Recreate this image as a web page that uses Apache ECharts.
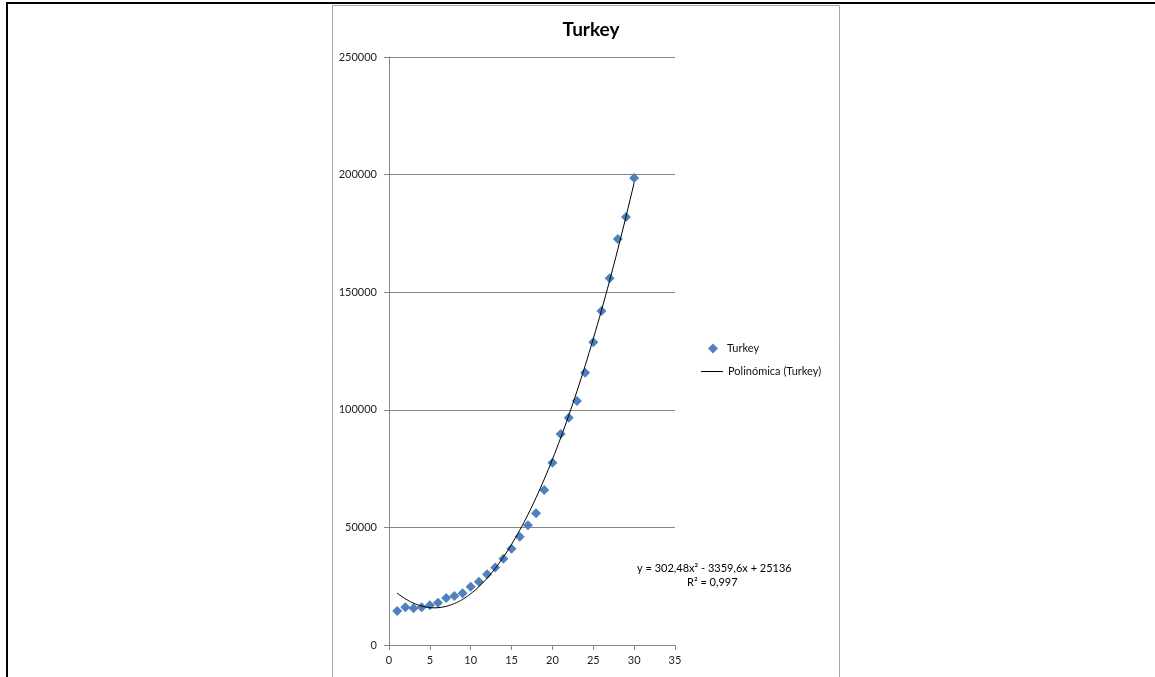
<!DOCTYPE html>
<html>
<head>
<meta charset="utf-8">
<title>Turkey</title>
<script src="https://cdn.jsdelivr.net/npm/echarts@6/dist/echarts.min.js"></script>
<style>
  html, body { margin: 0; padding: 0; background: #fff; }
  #chart { width: 1155px; height: 677px; }
</style>
</head>
<body>
<div id="chart"></div>
<script>
// Observed values (day index, cases)
const days = [1, 2, 3, 4, 5, 6, 7, 8, 9, 10, 11, 12, 13, 14, 15,
              16, 17, 18, 19, 20, 21, 22, 23, 24, 25, 26, 27, 28, 29, 30];
const cases = [14500, 16000, 15600, 16000, 16900, 18000, 20000, 20800, 22000, 24800,
               26900, 30100, 32900, 36700, 40900, 46000, 50900, 56000, 65900, 77500,
               89700, 96600, 103700, 115700, 128700, 142000, 155900, 172600, 182000, 198600];

// Second-order polynomial trend: c0 + c1*x + c2*x^2 (as printed on the chart)
const trendCoef = [25136, -3359.6, 302.48];
const trendLabel = ['y = 302,48x\u00B2 - 3359,6x + 25136', 'R\u00B2 = 0,997'];

const xTicks = { min: 0, max: 35, interval: 5 };
const yTicks = { min: 0, max: 250000, interval: 50000 };

const trendPoints = [];
for (let x = days[0]; x <= days[days.length - 1] + 1e-9; x += 0.25) {
  trendPoints.push([x, trendCoef[0] + trendCoef[1] * x + trendCoef[2] * x * x]);
}

const font = 'Lato, "Open Sans", "DejaVu Sans", sans-serif';
const chart = echarts.init(document.getElementById('chart'));

chart.setOption({
  animation: false,
  backgroundColor: '#ffffff',
  title: {
    text: 'Turkey',
    left: 586,
    top: 15,
    textAlign: 'center',
    textStyle: { fontFamily: font, fontSize: 19, fontWeight: 'bold', color: '#000' }
  },
  grid: { left: 389, right: 480, top: 57, bottom: 32, containLabel: false },
  xAxis: {
    type: 'value',
    min: xTicks.min, max: xTicks.max, interval: xTicks.interval,
    axisLine: { show: true, onZero: false, lineStyle: { color: '#868686', width: 1 } },
    axisTick: { show: true, inside: false, length: 5, lineStyle: { color: '#868686' } },
    axisLabel: { margin: 10, fontFamily: font, fontSize: 11, color: '#222' },
    splitLine: { show: false }
  },
  yAxis: {
    type: 'value',
    min: yTicks.min, max: yTicks.max, interval: yTicks.interval,
    axisLine: { show: true, lineStyle: { color: '#868686', width: 1 } },
    axisTick: { show: true, inside: false, length: 5, lineStyle: { color: '#868686' } },
    axisLabel: { margin: 12, fontFamily: font, fontSize: 11, color: '#222',
                 formatter: v => String(v) },
    splitLine: { show: true, lineStyle: { color: '#868686', width: 1 } }
  },
  legend: [
    {
      data: [{ name: 'Turkey', icon: 'diamond' }],
      orient: 'vertical',
      left: 703, top: 338,
      itemWidth: 10, itemHeight: 10,
      textStyle: { fontFamily: font, fontSize: 11, color: '#111', padding: [0, 0, 0, 4] }
    },
    {
      data: [{ name: 'Polinómica (Turkey)', icon: 'rect' }],
      orient: 'vertical',
      left: 696, top: 361,
      itemWidth: 22, itemHeight: 1,
      itemStyle: { color: '#000' },
      textStyle: { fontFamily: font, fontSize: 11, color: '#111' }
    }
  ],
  series: [
    {
      name: 'Polinómica (Turkey)',
      type: 'line',
      data: trendPoints,
      showSymbol: false,
      symbol: 'none',
      smooth: false,
      lineStyle: { color: '#000', width: 1 },
      itemStyle: { color: '#000' },
      z: 3
    },
    {
      name: 'Turkey',
      type: 'scatter',
      data: days.map((d, i) => [d, cases[i]]),
      symbol: 'diamond',
      symbolSize: 10,
      itemStyle: { color: '#4F81BD', opacity: 1 },
      z: 2
    }
  ],
  graphic: [
    // page frame lines
    { type: 'rect', shape: { x: 6, y: 2, width: 1149, height: 2 }, style: { fill: '#000' }, silent: true },
    { type: 'rect', shape: { x: 6, y: 2, width: 2, height: 675 }, style: { fill: '#000' }, silent: true },
    // chart area border
    { type: 'rect', shape: { x: 332.5, y: 5.5, width: 507, height: 680 },
      style: { fill: 'none', stroke: '#a6a6a6', lineWidth: 1 }, silent: true, z: -1 },
    // trendline equation
    { type: 'text', left: 637, top: 563,
      style: { text: trendLabel[0], fontFamily: font, fontSize: 11, fill: '#000' } },
    { type: 'text', left: 687, top: 577,
      style: { text: trendLabel[1], fontFamily: font, fontSize: 11, fill: '#000' } }
  ]
});
</script>
</body>
</html>
